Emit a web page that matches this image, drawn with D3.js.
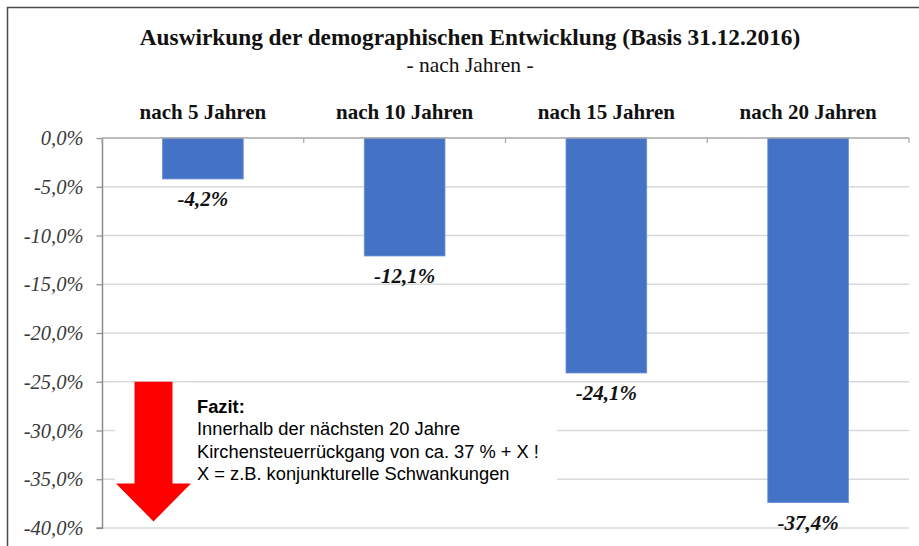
<!DOCTYPE html>
<html>
<head>
<meta charset="utf-8">
<script src="https://cdn.jsdelivr.net/npm/d3@7.9.0/dist/d3.min.js"></script>
<style>
  body { margin: 0; background: #fff; }
  svg { display: block; }
</style>
</head>
<body>
<div id="chart"></div>
<script>
// data
const categories = ['nach 5 Jahren', 'nach 10 Jahren', 'nach 15 Jahren', 'nach 20 Jahren'];
const values = [-4.2, -12.1, -24.1, -37.4];
const yTicks = [0, -5, -10, -15, -20, -25, -30, -35, -40];
const title = 'Auswirkung der demographischen Entwicklung (Basis 31.12.2016)';
const subtitle = '- nach Jahren -';
const noteLines = [
  'Innerhalb der nächsten 20 Jahre',
  'Kirchensteuerrückgang von ca. 37 % + X !',
  'X = z.B. konjunkturelle Schwankungen'
];

const width = 919, height = 546;
const serif = '"Liberation Serif", "Times New Roman", serif';
const sans = '"Liberation Sans", Arial, sans-serif';

const svg = d3.select('#chart').append('svg')
  .attr('width', width)
  .attr('height', height);

// outer frame (top + left edge of the embedded chart)
svg.append('path')
  .attr('d', `M7.5,${height} V7.5 H${width}`)
  .attr('fill', 'none')
  .attr('stroke', '#4a4a4a')
  .attr('stroke-width', 1.5);

const x = d3.scaleBand()
  .domain(categories)
  .range([102, 909])
  .paddingInner(0.6)
  .paddingOuter(0.3);

const y = d3.scaleLinear()
  .domain([0, -40])
  .range([138, 528]);

// titles
svg.append('text')
  .attr('x', 470).attr('y', 45)
  .attr('text-anchor', 'middle')
  .style('font-family', serif)
  .style('font-weight', 'bold')
  .style('font-size', '23.3px')
  .attr('fill', '#111')
  .text(title);

svg.append('text')
  .attr('x', 470).attr('y', 72)
  .attr('text-anchor', 'middle')
  .style('font-family', serif)
  .style('font-size', '21.5px')
  .attr('fill', '#111')
  .text(subtitle);

// gridlines
svg.append('g')
  .selectAll('line')
  .data(yTicks.filter(d => d !== 0))
  .join('line')
  .attr('x1', 102).attr('x2', 909)
  .attr('y1', d => y(d)).attr('y2', d => y(d))
  .attr('stroke', '#d9d9d9')
  .attr('stroke-width', 1.5);

// bars
svg.append('g')
  .selectAll('rect')
  .data(values)
  .join('rect')
  .attr('x', (d, i) => x(categories[i]))
  .attr('y', y(0))
  .attr('width', x.bandwidth())
  .attr('height', d => y(d) - y(0))
  .attr('fill', '#4472c4')
  .attr('stroke', '#6f8fd3')
  .attr('stroke-width', 0.8);

// value labels
svg.append('g')
  .selectAll('text')
  .data(values)
  .join('text')
  .attr('x', (d, i) => x(categories[i]) + x.bandwidth() / 2)
  .attr('y', d => y(d) + 27)
  .attr('text-anchor', 'middle')
  .style('font-family', serif)
  .style('font-weight', 'bold')
  .style('font-style', 'italic')
  .style('font-size', '21px')
  .attr('fill', '#111')
  .text(d => d.toFixed(1).replace('.', ',') + '%');

// white boxes behind annotation (cover gridlines)
svg.append('rect')
  .attr('x', 115).attr('y', y(-25) + 1)
  .attr('width', 77).attr('height', 142)
  .attr('fill', '#fff');
svg.append('rect')
  .attr('x', 192).attr('y', 390)
  .attr('width', 365).attr('height', 110)
  .attr('fill', '#fff');

// red arrow
const ax = 153.5, arrowTop = y(-25);
svg.append('path')
  .attr('d', `M${ax - 19},${arrowTop} H${ax + 19} V483.5 H${ax + 37.5} L${ax},521.5 L${ax - 37.5},483.5 H${ax - 19} Z`)
  .attr('fill', '#ff0000');

// note text
const note = svg.append('text')
  .attr('x', 197).attr('y', 413)
  .style('font-family', sans)
  .style('font-size', '18.3px')
  .attr('fill', '#000');
note.append('tspan')
  .attr('x', 197)
  .style('font-weight', 'bold')
  .text('Fazit:');
noteLines.forEach(line => {
  note.append('tspan').attr('x', 197).attr('dy', 22.3).text(line);
});

// y axis
const yAxis = d3.axisLeft(y)
  .tickValues(yTicks)
  .tickSize(6)
  .tickPadding(13)
  .tickFormat(d => d.toFixed(1).replace('.', ',') + '%');

const gy = svg.append('g')
  .attr('transform', 'translate(102.5,0)')
  .call(yAxis);
gy.select('.domain').attr('stroke', '#8c8c8c').attr('stroke-width', 1.5)
  .attr('d', `M-6,${y(-40)}H0V${y(0)}`);
gy.selectAll('.tick line').attr('stroke', '#8c8c8c').attr('stroke-width', 1.2);
gy.selectAll('.tick text')
  .style('font-family', serif)
  .style('font-style', 'italic')
  .style('font-size', '20.5px')
  .attr('fill', '#3a3a3a');

// category axis along the zero line
const step = x.step();
const bounds = d3.range(categories.length + 1).map(i => 102 + i * step);
svg.append('line')
  .attr('x1', 102).attr('x2', 909)
  .attr('y1', y(0)).attr('y2', y(0))
  .attr('stroke', '#a6a6a6')
  .attr('stroke-width', 1.5);
svg.append('g')
  .selectAll('line')
  .data(bounds)
  .join('line')
  .attr('x1', d => d).attr('x2', d => d)
  .attr('y1', y(0)).attr('y2', y(0) + 5)
  .attr('stroke', '#a6a6a6')
  .attr('stroke-width', 1.2);

svg.append('g')
  .selectAll('text')
  .data(categories)
  .join('text')
  .attr('x', d => x(d) + x.bandwidth() / 2)
  .attr('y', 119)
  .attr('text-anchor', 'middle')
  .style('font-family', serif)
  .style('font-weight', 'bold')
  .style('font-size', '21px')
  .attr('fill', '#111')
  .text(d => d);
</script>
</body>
</html>
